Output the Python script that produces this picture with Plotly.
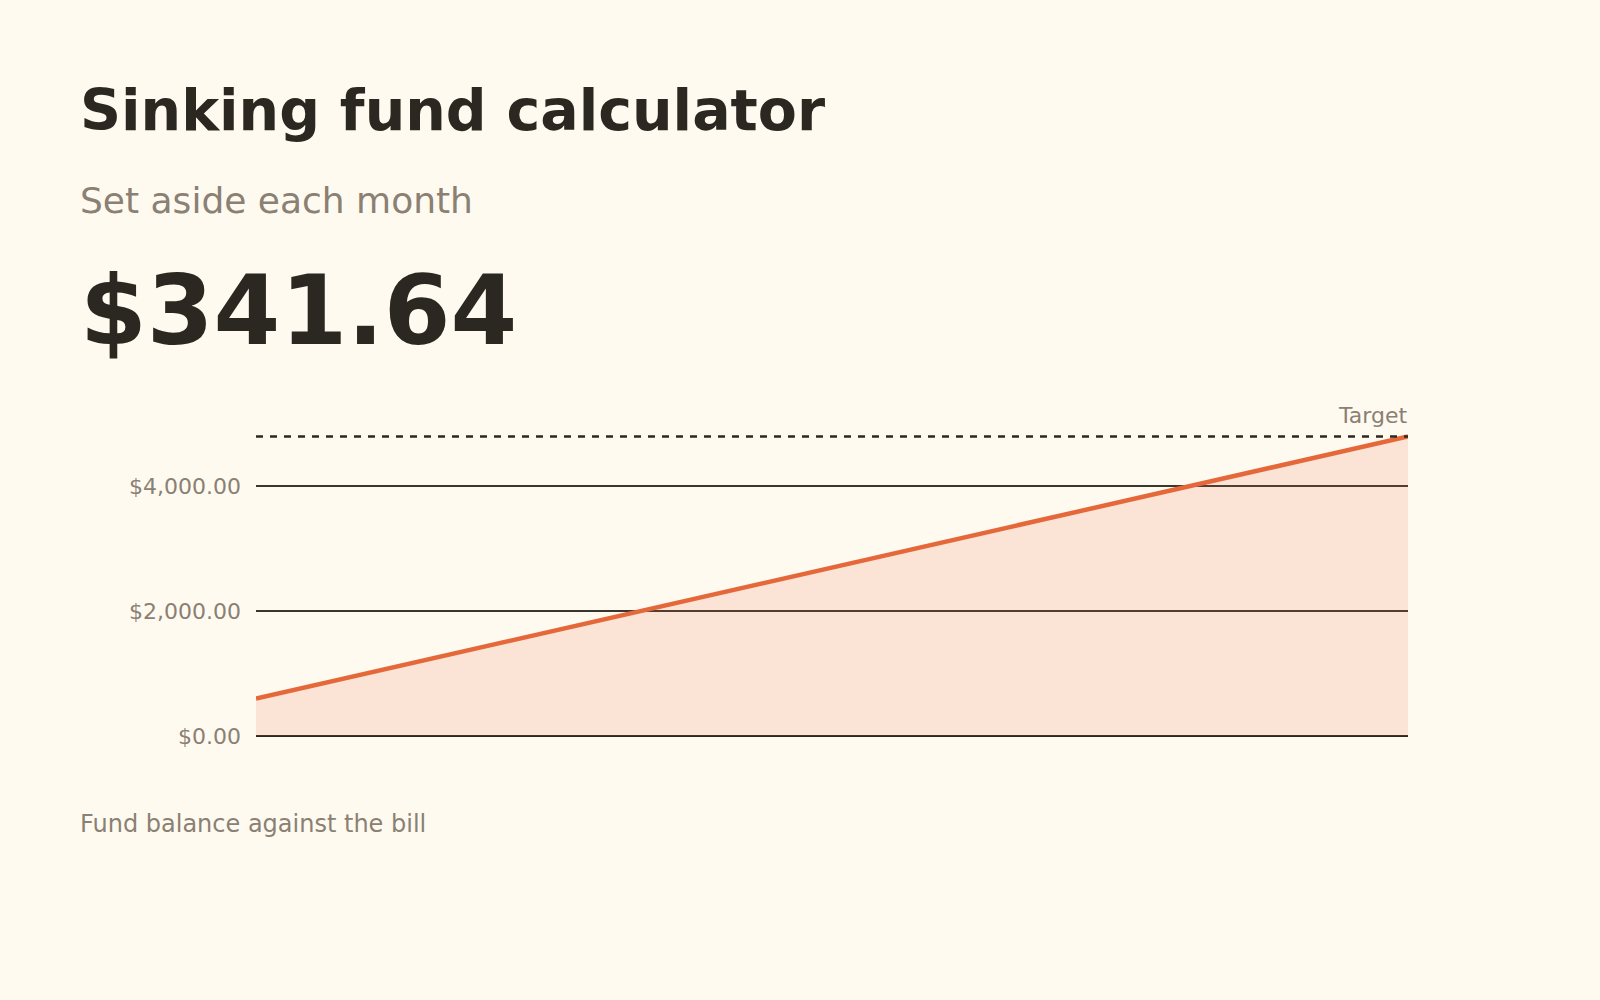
import plotly.graph_objects as go

# ---- data ----
months = [0, 1, 2, 3, 4, 5, 6, 7, 8, 9, 10, 11, 12]
balance = [600, 950, 1300, 1650, 2000, 2350, 2700, 3050, 3400, 3750, 4100, 4450, 4800]
target = 4800
monthly_amount = "$341.64"
y_ticks = [0, 2000, 4000]

title_text = "Sinking fund calculator"
subtitle_text = "Set aside each month"
footnote_text = "Fund balance against the bill"
target_label = "Target"

# ---- style ----
BG = "#fffaf0"
DARK = "#2b2821"
GRID = "#3a362e"
GRAY = "#8a8073"
ORANGE = "#e4683a"
FILL = "rgba(228,104,58,0.15)"
FONT = "DejaVu Sans"

W, H = 1600, 1000
PL, PR, PT, PB = 256, 1408, 424, 736  # plot area in pixels


def px_x(px):
    return (px - PL) / (PR - PL)


def px_y(py):
    return (PB - py) / (PB - PT)


fig = go.Figure()

fig.add_trace(go.Scatter(
    x=months, y=balance, mode="lines",
    line=dict(color=ORANGE, width=4.5),
    fill="tozeroy", fillcolor=FILL,
    hoverinfo="skip", showlegend=False,
))

fig.add_trace(go.Scatter(
    x=[months[0], months[-1]], y=[target, target], mode="lines",
    line=dict(color=DARK, width=2.5, dash="7px,7px"),
    hoverinfo="skip", showlegend=False,
))


def text_ann(text, px, baseline, size, color, anchor="left"):
    return dict(
        text=text, xref="paper", yref="paper",
        x=px_x(px), y=px_y(baseline - 0.35 * size),
        xanchor=anchor, yanchor="middle", showarrow=False,
        font=dict(family=FONT, size=size, color=color),
    )


annotations = [
    text_ann(f"<b>{title_text}</b>", 78, 130, 57, DARK),
    text_ann(subtitle_text, 78, 213, 36, GRAY),
    text_ann(f"<b>{monthly_amount}</b>", 78, 345, 96, DARK),
    text_ann(footnote_text, 78, 832, 24, GRAY),
    text_ann(target_label, 1409, 423, 22, GRAY, anchor="right"),
]

fig.update_layout(
    width=W, height=H,
    paper_bgcolor=BG, plot_bgcolor=BG,
    margin=dict(l=PL, r=W - PR, t=PT, b=H - PB, pad=0),
    font=dict(family=FONT, color=GRAY),
    annotations=annotations,
    showlegend=False,
    xaxis=dict(range=[months[0], months[-1]], visible=False, fixedrange=True),
    yaxis=dict(
        range=[0, 5000], tickvals=y_ticks, tickformat="$,.2f",
        showgrid=True, gridcolor=GRID, gridwidth=1.8,
        zeroline=True, zerolinecolor=DARK, zerolinewidth=2,
        showline=False, ticks="", ticklabelstandoff=14,
        tickfont=dict(family=FONT, size=22, color=GRAY),
        fixedrange=True,
    ),
)

fig.write_html(
    "out.html",
    config={"displayModeBar": False},
    post_script="document.body.style.margin='0';document.body.style.background='" + BG + "';",
)
